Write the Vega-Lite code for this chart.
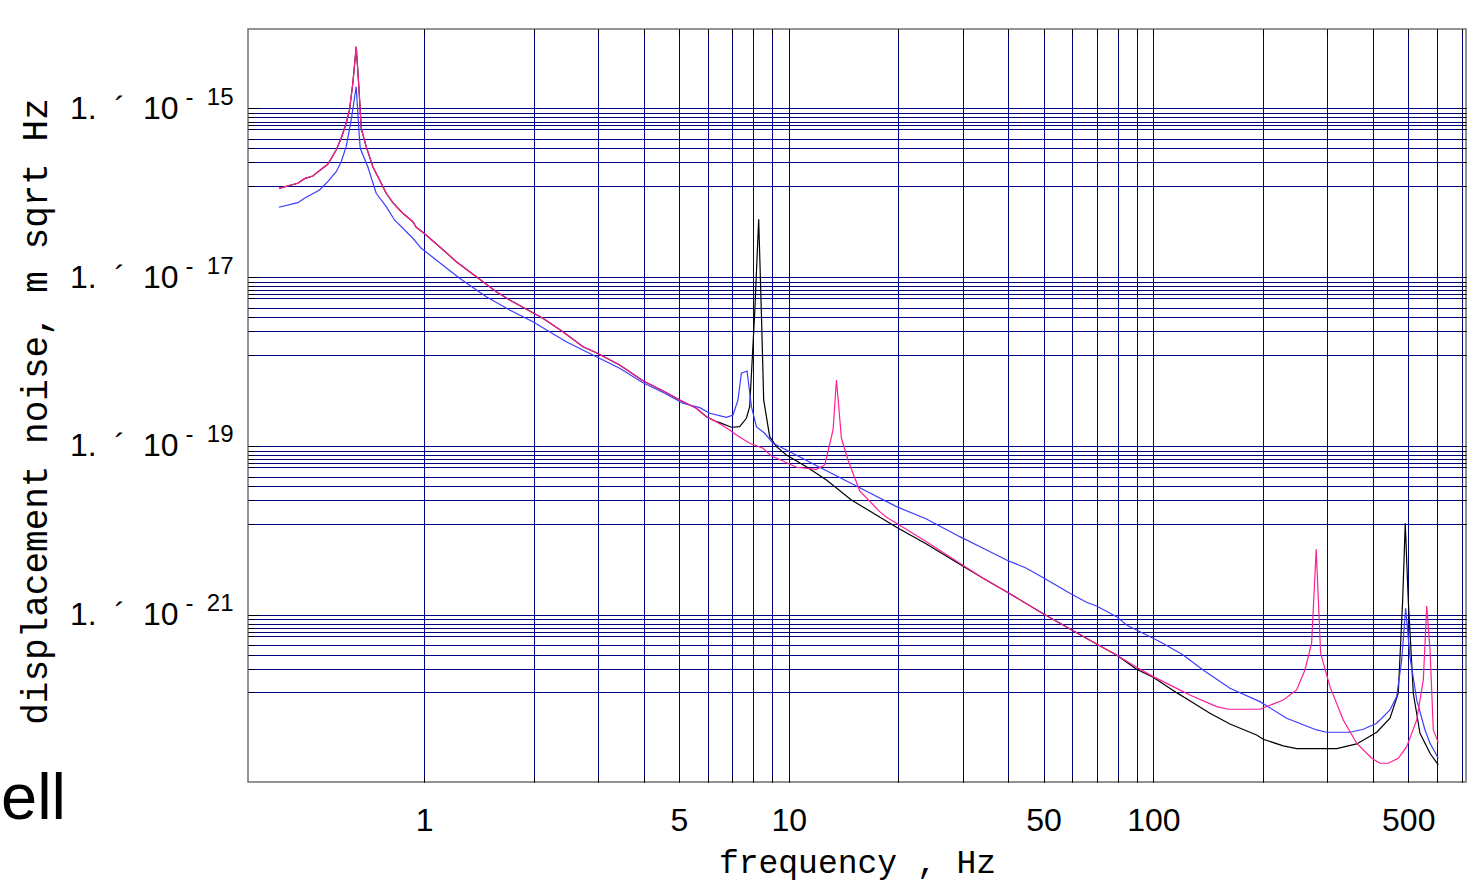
{
  "$schema": "https://vega.github.io/schema/vega-lite/v6.json",
  "width": 1218,
  "height": 753,
  "autosize": {"type": "none"},
  "padding": {"left": 248, "top": 29, "right": 8, "bottom": 99},
  "background": "white",
  "title": {"text": "ell", "orient": "top", "anchor": "start", "frame": "group", "font": "Liberation Sans", "fontSize": 65, "fontWeight": "normal", "color": "#000000", "baseline": "alphabetic", "dx": -247, "dy": 855, "offset": 0},
  "config": {
    "view": {"stroke": "#707070", "strokeWidth": 1.5},
    "axis": {"gridColor": "#000080", "gridWidth": 1, "gridOpacity": 1, "domain": false, "tickColor": "#000000", "tickWidth": 1, "labelColor": "#000000", "titleColor": "#000000", "labelFont": "Liberation Sans", "labelFontSize": 32, "titleFont": "Liberation Mono", "titleFontWeight": "normal", "labelOverlap": false, "labelFlush": false}
  },
  "resolve": {"axis": {"x": "independent", "y": "independent"}},
  "datasets": {
    "black": [
      {"f":0.400,"v":1.127e-16},{"f":0.4505,"v":1.292e-16},{"f":0.470,"v":1.466e-16},{"f":0.4953,"v":1.578e-16},{"f":0.5224,"v":1.894e-16},{"f":0.5445,"v":2.170e-16},{"f":0.5742,"v":3.206e-16},{"f":0.5926,"v":4.411e-16},{"f":0.6116,"v":6.643e-16},{"f":0.6245,"v":9.547e-16},{"f":0.6377,"v":1.978e-15},{"f":0.6516,"v":5.37e-15},{"f":0.6625,"v":1.803e-15},{"f":0.6726,"v":5.794e-16},{"f":0.694,"v":3.508e-16},{"f":0.7237,"v":2.032e-16},{"f":0.7631,"v":1.292e-16},{"f":0.7874,"v":9.838e-17},{"f":0.8211,"v":7.612e-17},{"f":0.8745,"v":5.702e-17},{"f":0.9317,"v":4.532e-17},{"f":0.9519,"v":3.890e-17},{"f":1.0,"v":3.304e-17},{"f":1.103,"v":2.291e-17},{"f":1.226,"v":1.522e-17},{"f":1.391,"v":1.011e-17},{"f":1.578,"v":6.714e-18},{"f":1.717,"v":5.354e-18},{"f":1.988,"v":3.787e-18},{"f":2.118,"v":3.249e-18},{"f":2.403,"v":2.255e-18},{"f":2.728,"v":1.497e-18},{"f":2.968,"v":1.271e-18},{"f":3.439,"v":9.09e-19},{"f":3.984,"v":5.922e-19},{"f":4.569,"v":4.387e-19},{"f":5.023,"v":3.498e-19},{"f":5.582,"v":2.789e-19},{"f":5.946,"v":2.218e-19},{"f":6.334,"v":1.935e-19},
      {"f":6.468,"v":1.883e-19},{"f":6.963,"v":1.661e-19},{"f":7.337,"v":1.689e-19},{"f":7.656,"v":2.123e-19},{"f":7.816,"v":2.914e-19},{"f":8.067,"v":3.756e-18},{"f":8.273,"v":4.839e-17},{"f":8.415,"v":3.756e-18},{"f":8.538,"v":3.498e-19},{"f":8.868,"v":1.285e-19},{"f":9.254,"v":9.784e-20},{"f":9.856,"v":7.801e-20},{"f":11.18,"v":5.670e-20},{"f":12.69,"v":3.945e-20},{"f":14.86,"v":2.286e-20},{"f":15.66,"v":1.995e-20},{"f":19.75,"v":1.085e-20},{"f":23.86,"v":6.880e-21},{"f":29.45,"v":3.956e-21},{"f":34.12,"v":2.700e-21},{"f":39.56,"v":1.873e-21},{"f":49.35,"v":1.056e-21},{"f":60.26,"v":6.463e-22},{"f":69.87,"v":4.496e-22},{"f":79.25,"v":3.331e-22},{"f":89.93,"v":2.255e-22},{"f":99.88,"v":1.813e-22},{"f":115.8,"v":1.191e-22},{"f":125.9,"v":9.572e-23},{"f":142.9,"v":6.788e-23},{"f":162.2,"v":5.070e-23},{"f":191.9,"v":3.756e-23},{"f":200.1,"v":3.340e-23},{"f":227.1,"v":2.782e-23},{"f":247.1,"v":2.584e-23},{"f":318.2,"v":2.584e-23},{"f":361.0,"v":2.938e-23},{"f":409.8,"v":4.042e-23},{"f":445.5,"v":5.922e-23},{"f":469.5,"v":1.171e-22},{"f":482.7,"v":1.494e-21},{"f":490.6,"v":1.210e-20},{"f":500.0,"v":1.494e-21},{"f":516.2,"v":1.171e-22},{"f":538.5,"v":3.934e-23},{"f":573.7,"v":2.279e-23},{"f":604.4,"v":1.657e-23}
    ],
    "blue": [
      {"f":0.3997,"v":6.714e-17},{"f":0.4505,"v":7.612e-17},{"f":0.470,"v":8.583e-17},{"f":0.5168,"v":1.076e-16},{"f":0.5445,"v":1.350e-16},{"f":0.5742,"v":1.774e-16},{"f":0.5926,"v":2.330e-16},{"f":0.6116,"v":3.508e-16},{"f":0.6313,"v":7.267e-16},{"f":0.6516,"v":1.803e-15},{"f":0.6625,"v":5.534e-16},{"f":0.6683,"v":3.358e-16},{"f":0.7011,"v":2.032e-16},{"f":0.7392,"v":9.838e-17},{"f":0.7874,"v":6.824e-17},{"f":0.8299,"v":4.748e-17},{"f":0.9317,"v":2.882e-17},{"f":0.9825,"v":2.194e-17},{"f":1.251,"v":9.678e-18},{"f":1.481,"v":5.858e-18},{"f":1.717,"v":4.076e-18},{"f":1.988,"v":2.962e-18},{"f":2.455,"v":1.716e-18},{"f":2.968,"v":1.140e-18},{"f":3.439,"v":8.306e-19},{"f":3.984,"v":5.607e-19},{"f":4.569,"v":4.200e-19},{"f":5.129,"v":3.197e-19},{"f":5.700,"v":2.835e-19},{"f":6.071,"v":2.434e-19},{"f":6.747,"v":2.182e-19},{"f":7.034,"v":2.323e-19},{"f":7.260,"v":3.498e-19},{"f":7.417,"v":7.247e-19},{"f":7.687,"v":7.715e-19},{"f":7.903,"v":2.914e-19},{"f":8.155,"v":1.689e-19},{"f":8.593,"v":1.410e-19},{"f":9.057,"v":1.073e-19},{"f":9.856,"v":8.940e-20},{"f":12.42,"v":5.324e-20},{"f":15.66,"v":3.197e-20},{"f":19.75,"v":1.904e-20},{"f":23.86,"v":1.361e-20},{"f":29.45,"v":8.398e-21},{"f":34.12,"v":6.118e-21},{"f":39.56,"v":4.447e-21},{"f":44.88,"v":3.546e-21},{"f":49.35,"v":2.819e-21},{"f":59.02,"v":1.793e-21},{"f":65.56,"v":1.403e-21},{"f":69.87,"v":1.268e-21},{"f":79.25,"v":9.469e-22},{"f":84.44,"v":7.551e-22},{"f":89.93,"v":6.587e-22},{"f":99.88,"v":5.252e-22},{"f":106.4,"v":4.559e-22},{"f":120.7,"v":3.331e-22},{"f":136.9,"v":2.212e-22},{"f":162.2,"v":1.343e-22},{"f":196.0,"v":9.316e-23},{"f":232.0,"v":5.922e-23},{"f":280.3,"v":4.303e-23},{"f":298.7,"v":4.042e-23},{"f":346.0,"v":4.042e-23},{"f":376.4,"v":4.387e-23},{"f":409.8,"v":5.167e-23},{"f":445.5,"v":7.428e-23},{"f":464.8,"v":1.068e-22},{"f":479.7,"v":2.906e-22},{"f":491.9,"v":1.191e-21},{"f":505.4,"v":3.180e-22},{"f":527.5,"v":9.757e-23},{"f":555.8,"v":4.303e-23},{"f":573.7,"v":2.995e-23},{"f":604.4,"v":1.989e-23}
    ],
    "magenta": [
      {"f":0.400,"v":1.127e-16},{"f":0.4505,"v":1.292e-16},{"f":0.470,"v":1.466e-16},{"f":0.4953,"v":1.578e-16},{"f":0.5224,"v":1.894e-16},{"f":0.5445,"v":2.170e-16},{"f":0.5742,"v":3.206e-16},{"f":0.5926,"v":4.411e-16},{"f":0.6116,"v":6.643e-16},{"f":0.6245,"v":9.547e-16},{"f":0.6377,"v":1.978e-15},{"f":0.6516,"v":5.37e-15},{"f":0.6625,"v":1.803e-15},{"f":0.6726,"v":5.794e-16},{"f":0.694,"v":3.508e-16},{"f":0.7237,"v":2.032e-16},{"f":0.7631,"v":1.292e-16},{"f":0.7874,"v":9.838e-17},{"f":0.8211,"v":7.612e-17},{"f":0.8745,"v":5.702e-17},{"f":0.9317,"v":4.532e-17},{"f":0.9519,"v":3.890e-17},{"f":1.0,"v":3.304e-17},{"f":1.103,"v":2.291e-17},{"f":1.226,"v":1.522e-17},{"f":1.391,"v":1.011e-17},{"f":1.578,"v":6.714e-18},{"f":1.717,"v":5.354e-18},{"f":1.988,"v":3.787e-18},{"f":2.118,"v":3.249e-18},{"f":2.403,"v":2.255e-18},{"f":2.728,"v":1.497e-18},{"f":2.968,"v":1.271e-18},{"f":3.439,"v":9.09e-19},{"f":3.984,"v":5.922e-19},{"f":4.569,"v":4.387e-19},{"f":5.023,"v":3.498e-19},{"f":5.582,"v":2.789e-19},{"f":5.946,"v":2.218e-19},{"f":6.334,"v":1.935e-19},
      {"f":6.888,"v":1.543e-19},{"f":7.187,"v":1.346e-19},{"f":7.816,"v":1.073e-19},{"f":8.503,"v":9.367e-20},{"f":8.964,"v":7.591e-20},{"f":9.647,"v":6.623e-20},{"f":10.50,"v":5.576e-20},{"f":11.91,"v":5.280e-20},{"f":12.56,"v":5.938e-20},{"f":13.23,"v":1.543e-19},{"f":13.52,"v":6.036e-19},{"f":13.95,"v":1.230e-19},{"f":14.54,"v":6.805e-20},{"f":15.66,"v":2.922e-20},{"f":17.77,"v":1.661e-20},{"f":18.54,"v":1.426e-20},{"f":19.75,"v":1.210e-20},{"f":23.86,"v":7.328e-21},{"f":29.45,"v":4.064e-21},{"f":34.12,"v":2.700e-21},{"f":39.56,"v":1.873e-21},{"f":49.35,"v":1.056e-21},{"f":60.26,"v":6.463e-22},{"f":69.87,"v":4.496e-22},{"f":79.25,"v":3.331e-22},{"f":89.93,"v":2.382e-22},{"f":99.88,"v":1.843e-22},{"f":113.3,"v":1.403e-22},{"f":125.9,"v":1.118e-22},{"f":149.1,"v":8.128e-23},{"f":160.4,"v":7.570e-23},{"f":196.0,"v":7.570e-23},{"f":227.1,"v":9.757e-23},{"f":247.1,"v":1.282e-22},{"f":260.4,"v":2.212e-22},{"f":271.6,"v":4.583e-22},{"f":279.6,"v":5.954e-21},{"f":287.5,"v":3.489e-22},{"f":305.0,"v":1.403e-22},{"f":331.7,"v":5.654e-23},{"f":361.0,"v":2.995e-23},{"f":396.9,"v":1.989e-23},{"f":418.3,"v":1.735e-23},{"f":440.8,"v":1.735e-23},{"f":469.5,"v":1.989e-23},{"f":495.1,"v":2.729e-23},{"f":527.5,"v":5.654e-23},{"f":549.9,"v":1.684e-22},{"f":561.8,"v":1.268e-21},{"f":573.7,"v":3.818e-22},{"f":585.7,"v":4.303e-23},{"f":604.4,"v":3.044e-23}
    ]
  },
  "layer": [
    {
      "data": {"name": "black"},
      "mark": {"type": "line", "color": "#000000", "strokeWidth": 1.2, "clip": true},
      "encoding": {
        "x": {
          "field": "f", "type": "quantitative",
          "scale": {"type": "log", "domain": [0.329, 720], "nice": false},
          "axis": {
            "orient": "bottom", "grid": true, "ticks": true, "tickSize": -5,
            "values": [1,2,3,4,5,6,7,8,9,10,20,30,40,50,60,70,80,90,100,200,300,400,500,600,700],
            "format": "d",
            "labelExpr": "indexof([1,5,10,50,100,500], datum.value) >= 0 ? datum.label : ''",
            "labelBaseline": "alphabetic", "labelPadding": 53, "labelAlign": "center",
            "title": "frequency , Hz", "titleFontSize": 33, "titleBaseline": "alphabetic", "titleAlign": "center", "titleX": 609, "titleY": 90
          }
        },
        "y": {
          "field": "v", "type": "quantitative",
          "scale": {"type": "log", "domain": [1.04e-23, 8.7e-15], "nice": false},
          "axis": {
            "orient": "left", "grid": true, "ticks": true, "tickSize": -5,
            "values": [1e-15,8.8e-16,7.82e-16,6.96e-16,6.31e-16,5.61e-16,4.33e-16,3.34e-16,2.28e-16,1.2e-16,1e-17,8.8e-18,7.82e-18,6.96e-18,6.31e-18,5.61e-18,4.33e-18,3.34e-18,2.28e-18,1.2e-18,1e-19,8.8e-20,7.82e-20,6.96e-20,6.31e-20,5.61e-20,4.33e-20,3.34e-20,2.28e-20,1.2e-20,1e-21,8.8e-22,7.82e-22,6.96e-22,6.31e-22,5.61e-22,4.33e-22,3.34e-22,2.28e-22,1.2e-22],
            "labelExpr": "(datum.value == 1e-15 || datum.value == 1e-17 || datum.value == 1e-19 || datum.value == 1e-21) ? '1.\u00a0\u00a0\u00b4\u00a0\u00a010' : ''",
            "labelAlign": "right", "labelBaseline": "middle", "labelPadding": 75,
            "title": "displacement noise, m sqrt Hz", "titleFontSize": 36, "titleAngle": -90, "titleBaseline": "alphabetic", "titleAlign": "center", "titleX": -202, "titleY": 382
          }
        }
      }
    },
    {
      "data": {"name": "blue"},
      "mark": {"type": "line", "color": "#3c3cff", "strokeWidth": 1.2, "clip": true},
      "encoding": {
        "x": {
          "field": "f", "type": "quantitative",
          "axis": {
            "orient": "top", "grid": false, "ticks": true, "tickSize": -5, "labels": false, "title": null,
            "values": [1,2,3,4,5,6,7,8,9,10,20,30,40,50,60,70,80,90,100,200,300,400,500,600,700]
          }
        },
        "y": {
          "field": "v", "type": "quantitative",
          "axis": {
            "orient": "left", "grid": false, "ticks": true, "tickSize": -10, "title": null,
            "values": [1e-15, 1e-17, 1e-19, 1e-21],
            "labelExpr": "datum.value == 1e-15 ? '-\u00a0\u00a015' : datum.value == 1e-17 ? '-\u00a0\u00a017' : datum.value == 1e-19 ? '-\u00a0\u00a019' : '-\u00a0\u00a021'",
            "labelFontSize": 24, "labelAlign": "right", "labelBaseline": "middle", "labelPadding": 25, "labelOffset": -11
          }
        }
      }
    },
    {
      "data": {"name": "magenta"},
      "mark": {"type": "line", "color": "#ff1e96", "strokeWidth": 1.2, "clip": true},
      "encoding": {
        "x": {"field": "f", "type": "quantitative", "axis": null},
        "y": {
          "field": "v", "type": "quantitative",
          "axis": {
            "orient": "right", "grid": false, "ticks": true, "tickSize": -5, "labels": false, "title": null,
            "values": [1e-15,8.8e-16,7.82e-16,6.96e-16,6.31e-16,5.61e-16,4.33e-16,3.34e-16,2.28e-16,1.2e-16,1e-17,8.8e-18,7.82e-18,6.96e-18,6.31e-18,5.61e-18,4.33e-18,3.34e-18,2.28e-18,1.2e-18,1e-19,8.8e-20,7.82e-20,6.96e-20,6.31e-20,5.61e-20,4.33e-20,3.34e-20,2.28e-20,1.2e-20,1e-21,8.8e-22,7.82e-22,6.96e-22,6.31e-22,5.61e-22,4.33e-22,3.34e-22,2.28e-22,1.2e-22]
          }
        }
      }
    }
  ]
}
